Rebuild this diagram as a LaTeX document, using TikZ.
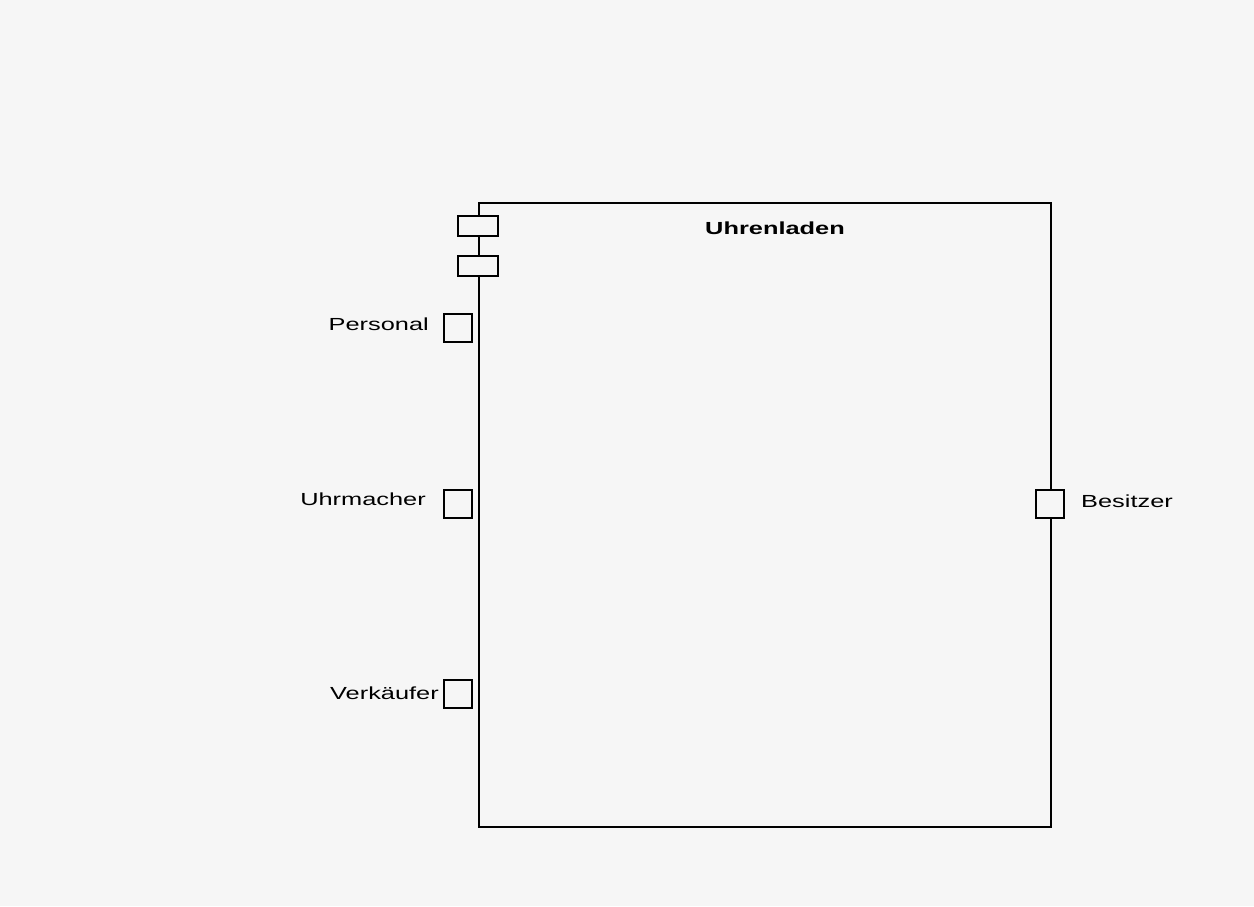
\documentclass[tikz,border=0pt]{standalone}
\usepackage{fontspec}
\setmainfont{Liberation Sans}[FakeStretch=1.45]
\definecolor{bg}{HTML}{F6F6F6}
\begin{document}
\begin{tikzpicture}[x=1pt,y=-1pt,
  line/.style={draw=black,line width=1.5pt},
  port/.style={draw=black,line width=1.5pt,fill=bg,minimum width=28pt,minimum height=28pt,inner sep=0pt,outer sep=0pt},
  icon/.style={draw=black,line width=1.5pt,fill=bg,minimum width=40pt,minimum height=20pt,inner sep=0pt,outer sep=0pt},
  lbl/.style={font=\fontsize{17.5}{20}\selectfont,inner sep=0pt}]
\fill[bg] (0,0) rectangle (1254,906);
\useasboundingbox (0,0) rectangle (1254,906);
\node[line,minimum width=572pt,minimum height=624pt,inner sep=0pt,anchor=north west] (box) at (478,202) {};
\node[icon] (i1) at (478,226) {};
\node[icon] (i2) at (478,266) {};
\node[lbl,font=\bfseries\fontsize{17.5}{20}\selectfont,anchor=base] (title) at (775,234) {Uhrenladen};
\node[port] (p1) at (458,328) {};
\node[port] (p2) at (458,504) {};
\node[port] (p3) at (458,694) {};
\node[port] (p4) at (1050,504) {};
\node[lbl,anchor=base east] (t1) at (429,330) {Personal};
\node[lbl,anchor=base east] (t2) at (426,505) {Uhrmacher};
\node[lbl,anchor=base east] (t3) at (439,699) {Verkäufer};
\node[lbl,anchor=base west] (t4) at (1081,507) {Besitzer};
\end{tikzpicture}
\end{document}
